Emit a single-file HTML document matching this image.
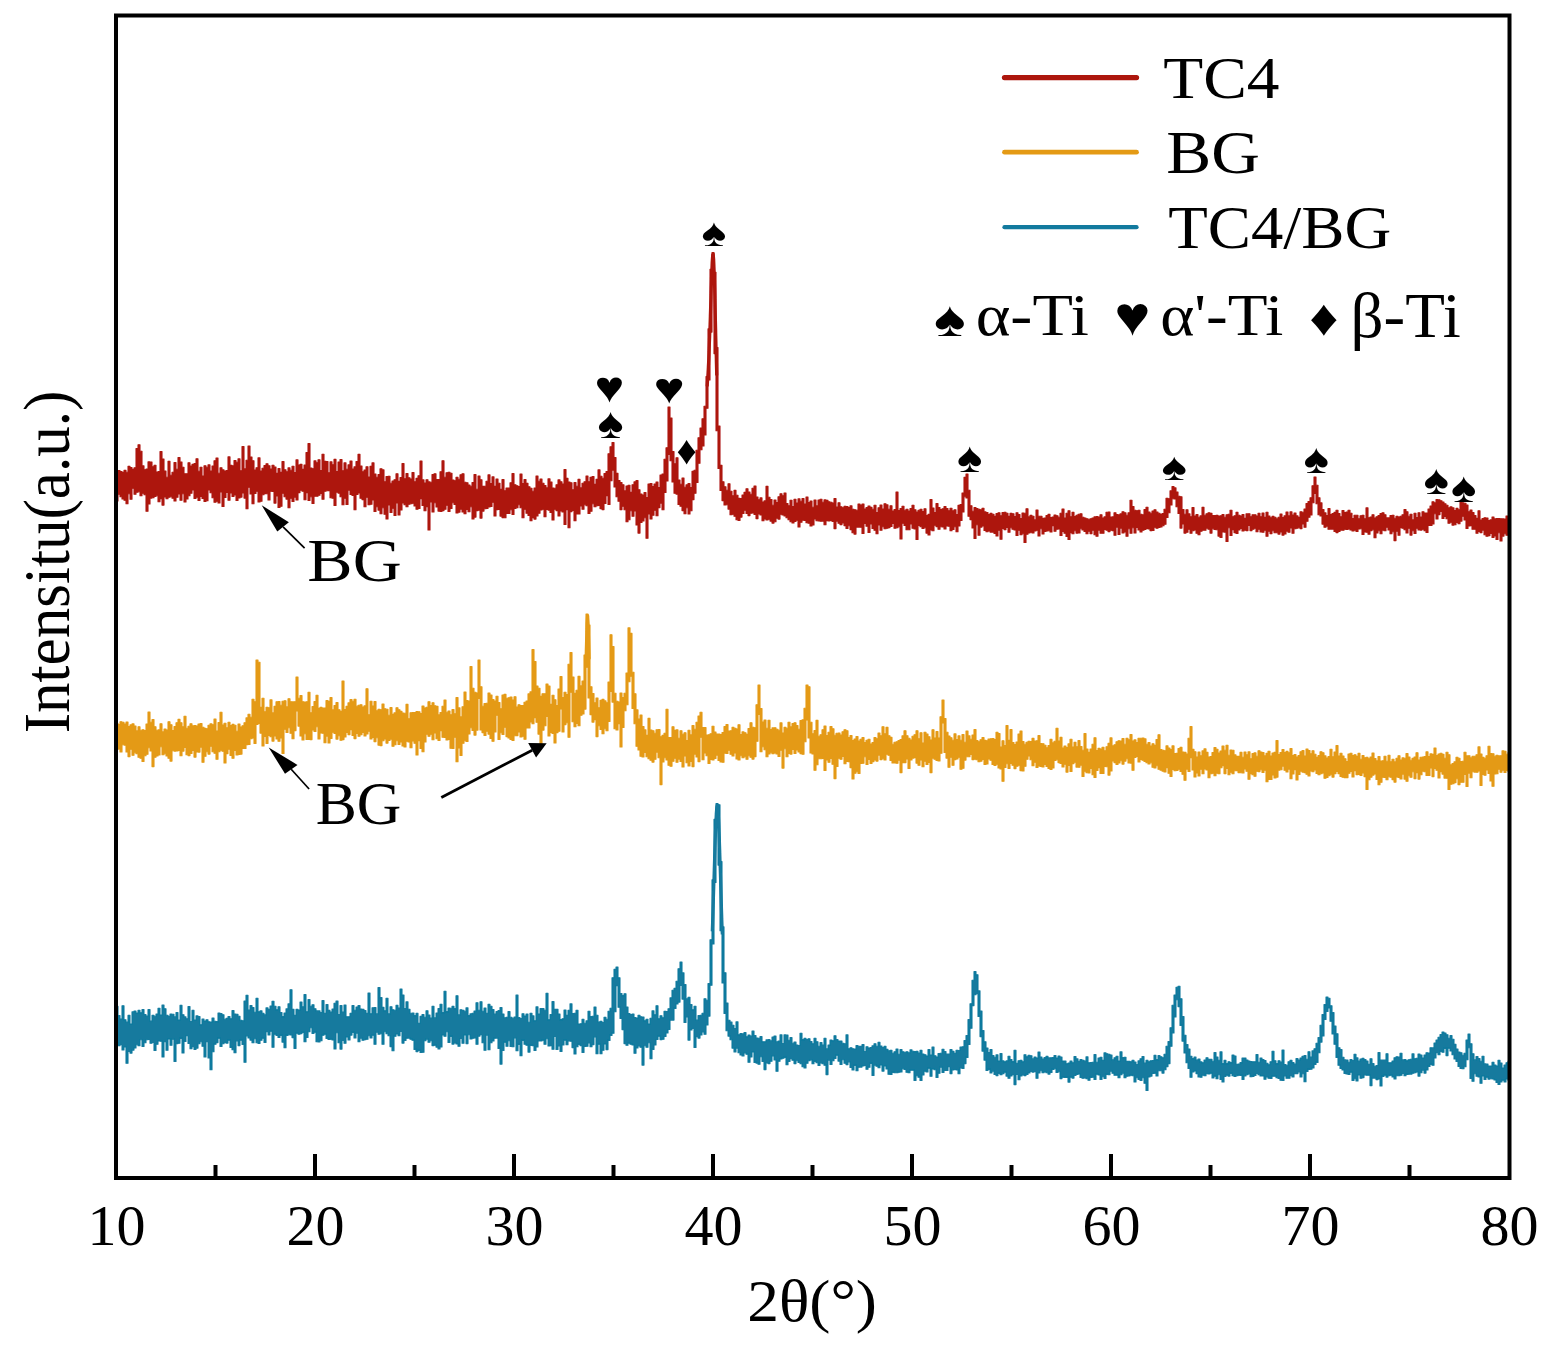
<!DOCTYPE html>
<html><head><meta charset="utf-8"><title>XRD patterns</title>
<style>html,body{margin:0;padding:0;background:#fff;width:1550px;height:1345px;overflow:hidden}svg{display:block}</style>
</head><body>
<svg width="1550" height="1345" viewBox="0 0 1550 1345">
<rect width="1550" height="1345" fill="#fff"/>
<defs><filter id="sb" x="-1%" y="-5%" width="102%" height="110%"><feGaussianBlur stdDeviation="0.55"/></filter></defs>
<g filter="url(#sb)">
<path fill="#AD160D" stroke="#AD160D" stroke-width="1.10" stroke-linejoin="round" d="M116.0,471.6h2V470.6h2V471.5h2V472.4h2V470.4h2V472.2h2V466.4h2V467.5h2V469.4h2V467.7h2V448.5h2V444.7h2V451.2h2V465.9h2V469.8h2V469.1h2V461.9h2V462.1h2V466.8h2V465.3h2V472.1h2V471.6h2V451.6h2V459.1h2V471.1h2V477.2h2V461.4h2V475.2h2V472.2h2V462.6h2V469.3h2V457.6h2V462.1h2V467.2h2V473.7h2V473.8h2V462.7h2V466.0h2V464.4h2V463.5h2V458.8h2V471.3h2V467.2h2V476.1h2V465.8h2V467.2h2V464.9h2V471.0h2V466.0h2V460.8h2V458.1h2V473.3h2V467.7h2V469.9h2V471.0h2V470.5h2V456.9h2V465.4h2V465.9h2V460.5h2V462.3h2V458.9h2V470.7h2V446.5h2V468.9h2V460.2h2V446.1h2V457.1h2V460.8h2V470.0h2V467.8h2V457.9h2V471.1h2V468.2h2V465.5h2V463.7h2V465.7h2V469.0h2V465.2h2V467.1h2V473.4h2V468.5h2V472.4h2V461.5h2V469.8h2V471.8h2V467.9h2V470.3h2V466.2h2V472.5h2V459.9h2V465.0h2V464.4h2V469.4h2V465.0h2V452.6h2V443.6h2V468.1h2V468.8h2V460.9h2V462.8h2V459.8h2V470.5h2V454.2h2V461.4h2V461.5h2V472.8h2V461.9h2V464.7h2V459.4h2V471.6h2V462.1h2V459.5h2V470.8h2V462.9h2V469.2h2V464.9h2V461.0h2V469.0h2V466.9h2V461.6h2V454.4h2V466.0h2V471.8h2V470.1h2V466.8h2V477.1h2V466.4h2V462.9h2V474.0h2V477.3h2V474.5h2V468.8h2V469.9h2V481.8h2V476.6h2V476.2h2V483.3h2V481.0h2V479.8h2V473.8h2V481.4h2V477.6h2V463.6h2V478.7h2V473.6h2V477.8h2V479.1h2V472.6h2V481.8h2V478.4h2V475.7h2V461.1h2V479.9h2V483.0h2V479.7h2V481.9h2V482.3h2V474.6h2V473.7h2V479.6h2V479.5h2V471.8h2V460.8h2V477.2h2V472.8h2V472.3h2V473.3h2V480.0h2V480.7h2V477.3h2V479.3h2V474.7h2V473.8h2V482.2h2V482.8h2V485.1h2V486.3h2V482.5h2V474.6h2V489.3h2V476.0h2V479.7h2V486.4h2V486.3h2V481.3h2V474.9h2V483.5h2V476.9h2V486.4h2V479.1h2V483.2h2V489.4h2V479.5h2V490.7h2V488.1h2V488.1h2V482.8h2V473.5h2V484.8h2V485.8h2V486.5h2V474.0h2V483.5h2V479.6h2V483.4h2V486.7h2V488.3h2V491.3h2V488.0h2V476.0h2V481.3h2V479.0h2V483.3h2V485.5h2V487.9h2V478.9h2V482.1h2V488.0h2V488.2h2V484.8h2V479.9h2V481.7h2V484.0h2V469.6h2V478.4h2V482.0h2V482.8h2V489.8h2V482.5h2V486.2h2V479.4h2V487.9h2V483.3h2V481.8h2V476.0h2V481.8h2V477.4h2V476.6h2V484.4h2V479.4h2V469.9h2V476.2h2V478.2h2V473.5h2V471.5h2V453.7h2V446.8h2V442.6h2V457.6h2V473.4h2V480.6h2V482.5h2V484.8h2V490.9h2V486.0h2V485.3h2V492.4h2V484.7h2V481.9h2V480.6h2V489.8h2V494.1h2V495.1h2V492.6h2V497.5h2V484.1h2V483.6h2V486.5h2V484.1h2V482.0h2V487.6h2V475.0h2V474.0h2V459.3h2V447.7h2V407.0h2V418.0h2V451.5h2V463.8h2V457.8h2V480.1h2V484.3h2V478.1h2V487.2h2V484.9h2V483.6h2V487.6h2V471.4h2V470.2h2V450.2h2V437.7h2V428.0h2V418.7h2V406.3h2V376.5h2V328.9h2V269.3h2V252.5h2V272.2h2V347.6h2V426.1h2V465.4h2V481.8h2V486.7h2V490.2h2V483.7h2V491.2h2V495.8h2V490.4h2V495.2h2V498.4h2V498.6h2V495.0h2V492.4h2V488.8h2V492.1h2V494.3h2V488.3h2V486.0h2V497.0h2V499.8h2V497.9h2V502.0h2V500.9h2V486.4h2V497.2h2V499.5h2V505.3h2V500.1h2V502.5h2V496.7h2V493.8h2V495.8h2V493.1h2V503.5h2V505.8h2V500.2h2V506.6h2V499.3h2V503.0h2V498.9h2V501.3h2V498.5h2V504.1h2V497.0h2V502.5h2V501.1h2V507.2h2V500.0h2V505.9h2V500.0h2V499.2h2V502.3h2V499.9h2V500.4h2V501.7h2V502.2h2V503.0h2V498.6h2V507.1h2V502.7h2V506.7h2V507.8h2V506.2h2V506.5h2V507.5h2V505.9h2V509.3h2V509.8h2V510.2h2V504.1h2V505.1h2V504.0h2V509.0h2V507.5h2V506.1h2V507.4h2V509.2h2V505.2h2V512.6h2V507.8h2V505.0h2V509.0h2V503.7h2V504.9h2V509.3h2V505.7h2V511.1h2V509.5h2V492.0h2V510.6h2V508.6h2V506.2h2V510.2h2V509.3h2V511.0h2V508.5h2V505.2h2V509.8h2V512.0h2V510.2h2V509.3h2V511.6h2V508.8h2V515.5h2V514.4h2V499.6h2V508.0h2V512.5h2V503.5h2V507.6h2V509.6h2V508.7h2V506.6h2V508.5h2V510.8h2V508.2h2V510.9h2V509.8h2V514.5h2V505.4h2V504.6h2V493.1h2V477.4h2V474.0h2V490.2h2V505.8h2V511.3h2V507.5h2V508.5h2V509.2h2V509.9h2V508.2h2V511.9h2V512.5h2V514.6h2V513.4h2V514.3h2V516.4h2V513.6h2V512.8h2V515.8h2V512.6h2V512.3h2V513.3h2V516.4h2V513.4h2V513.7h2V516.6h2V512.8h2V514.5h2V518.5h2V513.1h2V513.2h2V508.7h2V516.9h2V515.4h2V516.3h2V519.9h2V510.0h2V516.3h2V516.2h2V518.4h2V518.1h2V515.6h2V514.4h2V517.5h2V517.0h2V515.1h2V515.8h2V517.3h2V513.3h2V509.1h2V518.1h2V513.2h2V510.7h2V516.7h2V512.4h2V516.6h2V515.3h2V514.3h2V513.8h2V517.3h2V518.0h2V518.7h2V519.3h2V518.7h2V518.1h2V516.9h2V516.6h2V517.0h2V514.7h2V518.1h2V516.9h2V512.2h2V512.1h2V517.1h2V516.9h2V512.8h2V514.5h2V514.9h2V513.9h2V511.8h2V512.7h2V515.2h2V512.7h2V500.3h2V506.5h2V510.3h2V510.8h2V510.3h2V514.2h2V514.9h2V509.5h2V507.2h2V512.0h2V513.3h2V511.0h2V509.8h2V512.0h2V513.3h2V514.4h2V513.5h2V509.3h2V498.3h2V498.8h2V490.9h2V486.5h2V487.9h2V492.0h2V496.2h2V496.7h2V509.6h2V514.2h2V509.8h2V513.9h2V516.7h2V507.5h2V516.1h2V514.5h2V517.3h2V515.9h2V507.4h2V515.2h2V513.7h2V512.8h2V513.4h2V515.6h2V515.6h2V515.4h2V516.1h2V515.8h2V514.6h2V517.3h2V514.8h2V514.3h2V510.3h2V516.8h2V515.8h2V512.4h2V515.3h2V516.1h2V514.6h2V518.4h2V513.9h2V513.8h2V516.8h2V514.7h2V514.8h2V516.1h2V513.2h2V516.8h2V513.0h2V517.4h2V512.3h2V516.1h2V517.7h2V516.4h2V517.3h2V518.9h2V517.2h2V514.1h2V517.6h2V515.9h2V512.1h2V515.9h2V511.9h2V515.0h2V513.0h2V515.9h2V517.4h2V511.8h2V512.3h2V509.0h2V503.6h2V501.6h2V497.7h2V485.7h2V477.0h2V485.3h2V497.8h2V502.9h2V509.5h2V512.9h2V515.6h2V508.6h2V514.5h2V513.5h2V512.4h2V510.2h2V513.6h2V516.7h2V510.5h2V512.6h2V512.0h2V510.3h2V513.3h2V518.6h2V515.3h2V515.3h2V518.8h2V515.7h2V515.2h2V518.8h2V507.9h2V517.7h2V517.0h2V514.8h2V518.0h2V516.8h2V515.5h2V513.6h2V512.7h2V514.8h2V517.9h2V517.9h2V515.5h2V515.2h2V518.2h2V516.2h2V517.1h2V516.3h2V514.7h2V509.5h2V511.7h2V516.2h2V514.2h2V519.9h2V513.3h2V517.6h2V512.8h2V517.0h2V511.7h2V513.1h2V513.0h2V509.0h2V506.0h2V501.7h2V502.9h2V499.6h2V499.7h2V500.7h2V502.0h2V503.7h2V505.2h2V507.9h2V506.9h2V507.9h2V510.6h2V508.4h2V509.7h2V502.0h2V502.8h2V503.3h2V505.1h2V511.8h2V510.1h2V512.6h2V515.6h2V518.4h2V510.7h2V520.0h2V518.5h2V517.7h2V518.1h2V520.5h2V519.9h2V517.1h2V518.9h2V518.6h2V518.5h2V518.8h2V518.9h2V519.0h2V516.1h2V517.3h2V532.9h-2V535.2h-2V533.8h-2V536.1h-2V540.9h-2V532.7h-2V539.5h-2V535.9h-2V537.4h-2V533.5h-2V535.6h-2V536.3h-2V534.7h-2V530.1h-2V532.6h-2V531.4h-2V533.2h-2V529.3h-2V529.3h-2V525.6h-2V525.9h-2V528.5h-2V520.0h-2V516.3h-2V521.1h-2V523.7h-2V522.5h-2V524.7h-2V525.1h-2V522.3h-2V523.3h-2V518.8h-2V516.4h-2V518.4h-2V511.5h-2V514.6h-2V518.9h-2V513.8h-2V523.9h-2V525.5h-2V525.4h-2V532.5h-2V530.8h-2V529.2h-2V530.1h-2V530.0h-2V528.2h-2V533.4h-2V530.8h-2V535.1h-2V528.3h-2V533.0h-2V529.7h-2V528.2h-2V527.6h-2V535.2h-2V531.2h-2V540.6h-2V531.8h-2V533.8h-2V530.0h-2V527.2h-2V530.8h-2V530.1h-2V533.8h-2V530.7h-2V532.9h-2V537.8h-2V529.7h-2V530.6h-2V534.2h-2V532.2h-2V531.9h-2V534.4h-2V528.8h-2V529.0h-2V531.5h-2V530.1h-2V531.0h-2V529.9h-2V528.9h-2V529.4h-2V529.2h-2V530.3h-2V530.1h-2V531.5h-2V532.6h-2V531.5h-2V529.1h-2V529.1h-2V529.2h-2V526.1h-2V527.2h-2V524.1h-2V516.0h-2V514.7h-2V503.8h-2V493.5h-2V502.7h-2V514.9h-2V517.2h-2V521.3h-2V527.3h-2V523.9h-2V528.6h-2V527.7h-2V528.3h-2V528.7h-2V533.2h-2V528.0h-2V532.2h-2V531.1h-2V533.9h-2V535.1h-2V532.0h-2V534.1h-2V532.8h-2V532.7h-2V530.8h-2V533.6h-2V531.2h-2V536.2h-2V530.2h-2V532.3h-2V532.0h-2V529.3h-2V531.8h-2V528.2h-2V529.3h-2V530.6h-2V525.5h-2V530.6h-2V530.1h-2V531.0h-2V528.4h-2V530.0h-2V533.4h-2V532.6h-2V529.6h-2V535.4h-2V527.7h-2V541.4h-2V532.1h-2V532.0h-2V537.5h-2V536.1h-2V529.8h-2V529.5h-2V528.7h-2V533.1h-2V529.2h-2V528.1h-2V530.2h-2V530.3h-2V531.2h-2V534.7h-2V533.3h-2V529.9h-2V530.7h-2V533.3h-2V529.3h-2V532.3h-2V533.1h-2V524.0h-2V528.1h-2V513.4h-2V506.7h-2V499.0h-2V498.8h-2V505.0h-2V512.7h-2V517.4h-2V524.3h-2V525.8h-2V527.0h-2V527.4h-2V528.2h-2V527.2h-2V530.4h-2V530.6h-2V528.9h-2V528.4h-2V529.4h-2V530.2h-2V532.0h-2V529.9h-2V527.5h-2V533.0h-2V527.8h-2V533.2h-2V528.7h-2V536.3h-2V532.0h-2V532.9h-2V528.1h-2V534.5h-2V527.1h-2V535.3h-2V530.6h-2V530.3h-2V531.6h-2V530.2h-2V529.5h-2V533.3h-2V533.3h-2V530.1h-2V536.2h-2V534.7h-2V530.3h-2V533.6h-2V531.2h-2V533.8h-2V531.5h-2V529.9h-2V528.7h-2V532.9h-2V533.1h-2V530.8h-2V533.7h-2V532.6h-2V539.5h-2V536.4h-2V533.2h-2V531.5h-2V535.4h-2V529.0h-2V529.2h-2V531.2h-2V525.6h-2V532.0h-2V530.8h-2V530.9h-2V531.5h-2V534.0h-2V528.8h-2V536.0h-2V530.3h-2V530.9h-2V532.9h-2V532.3h-2V532.9h-2V534.2h-2V542.4h-2V533.8h-2V534.8h-2V530.3h-2V535.5h-2V530.0h-2V529.2h-2V527.7h-2V532.2h-2V527.5h-2V529.6h-2V528.4h-2V539.2h-2V530.3h-2V535.9h-2V533.4h-2V532.1h-2V532.1h-2V531.0h-2V531.8h-2V530.5h-2V526.0h-2V527.1h-2V535.3h-2V524.7h-2V538.5h-2V527.9h-2V519.6h-2V516.3h-2V497.9h-2V496.7h-2V511.9h-2V520.5h-2V526.0h-2V531.7h-2V526.8h-2V529.4h-2V530.7h-2V526.3h-2V526.0h-2V529.0h-2V527.0h-2V526.8h-2V529.3h-2V526.6h-2V525.2h-2V530.7h-2V530.0h-2V534.9h-2V533.1h-2V527.8h-2V528.4h-2V526.7h-2V525.4h-2V539.5h-2V529.0h-2V528.3h-2V524.0h-2V529.8h-2V529.8h-2V525.4h-2V523.3h-2V538.9h-2V526.7h-2V527.7h-2V528.3h-2V523.5h-2V526.5h-2V527.6h-2V528.2h-2V528.7h-2V526.8h-2V530.3h-2V524.9h-2V533.8h-2V530.2h-2V528.4h-2V524.0h-2V532.5h-2V526.3h-2V523.4h-2V533.5h-2V527.2h-2V527.1h-2V527.1h-2V534.1h-2V532.7h-2V529.6h-2V525.7h-2V528.4h-2V525.6h-2V522.9h-2V524.6h-2V523.2h-2V521.1h-2V528.6h-2V521.4h-2V520.4h-2V521.0h-2V520.6h-2V524.8h-2V521.1h-2V521.3h-2V520.9h-2V520.8h-2V519.0h-2V524.9h-2V526.0h-2V523.3h-2V522.7h-2V520.5h-2V520.1h-2V522.3h-2V527.0h-2V520.3h-2V521.4h-2V523.0h-2V521.8h-2V519.8h-2V517.8h-2V516.0h-2V515.0h-2V514.2h-2V519.1h-2V518.1h-2V521.7h-2V523.1h-2V521.1h-2V519.2h-2V520.0h-2V518.9h-2V520.8h-2V514.9h-2V514.0h-2V518.6h-2V514.4h-2V512.9h-2V513.2h-2V515.6h-2V513.4h-2V510.3h-2V513.5h-2V517.1h-2V520.5h-2V519.7h-2V516.2h-2V514.2h-2V514.8h-2V509.1h-2V504.8h-2V504.9h-2V500.6h-2V490.5h-2V468.4h-2V430.8h-2V353.6h-2V274.4h-2V332.1h-2V379.9h-2V408.3h-2V435.0h-2V445.9h-2V449.8h-2V463.3h-2V482.5h-2V493.2h-2V499.6h-2V510.8h-2V513.9h-2V507.7h-2V513.8h-2V510.6h-2V506.2h-2V504.4h-2V494.1h-2V493.2h-2V481.9h-2V460.8h-2V454.5h-2V480.9h-2V492.4h-2V509.8h-2V503.1h-2V507.6h-2V515.8h-2V510.2h-2V515.3h-2V519.0h-2V513.9h-2V538.3h-2V517.8h-2V520.9h-2V522.5h-2V533.1h-2V524.9h-2V510.9h-2V516.3h-2V510.8h-2V519.7h-2V521.8h-2V509.8h-2V506.3h-2V509.6h-2V501.3h-2V496.7h-2V487.0h-2V470.1h-2V480.7h-2V504.4h-2V495.6h-2V503.4h-2V509.6h-2V508.6h-2V505.4h-2V505.7h-2V506.8h-2V503.7h-2V511.3h-2V513.4h-2V505.7h-2V504.7h-2V509.3h-2V506.0h-2V514.0h-2V514.0h-2V520.8h-2V510.5h-2V511.6h-2V527.7h-2V509.6h-2V524.5h-2V512.0h-2V511.0h-2V516.0h-2V510.6h-2V509.3h-2V520.0h-2V512.5h-2V510.1h-2V509.5h-2V516.7h-2V509.3h-2V510.0h-2V513.3h-2V516.0h-2V519.1h-2V517.6h-2V520.8h-2V515.4h-2V513.3h-2V509.3h-2V517.8h-2V507.8h-2V504.8h-2V507.7h-2V508.4h-2V514.5h-2V509.8h-2V513.4h-2V513.4h-2V517.8h-2V517.6h-2V516.1h-2V509.4h-2V509.6h-2V515.9h-2V502.3h-2V506.4h-2V506.9h-2V508.4h-2V508.8h-2V511.1h-2V518.1h-2V510.1h-2V510.6h-2V517.1h-2V519.0h-2V506.7h-2V511.8h-2V509.5h-2V513.7h-2V512.0h-2V509.1h-2V512.1h-2V513.0h-2V504.5h-2V502.8h-2V508.4h-2V511.4h-2V505.3h-2V509.3h-2V510.6h-2V511.5h-2V511.1h-2V507.0h-2V502.8h-2V512.0h-2V501.9h-2V529.9h-2V506.6h-2V510.8h-2V505.5h-2V498.6h-2V508.5h-2V509.2h-2V506.0h-2V503.3h-2V503.8h-2V504.3h-2V506.7h-2V504.8h-2V502.9h-2V510.0h-2V515.0h-2V502.9h-2V515.5h-2V508.2h-2V512.4h-2V504.9h-2V518.9h-2V514.2h-2V507.7h-2V513.7h-2V510.1h-2V506.8h-2V511.4h-2V500.0h-2V504.3h-2V504.8h-2V497.2h-2V506.8h-2V499.6h-2V498.3h-2V493.0h-2V494.5h-2V509.8h-2V495.5h-2V494.4h-2V490.1h-2V504.5h-2V498.2h-2V504.7h-2V496.8h-2V493.1h-2V492.1h-2V505.4h-2V498.2h-2V497.8h-2V490.6h-2V490.8h-2V491.2h-2V499.2h-2V493.5h-2V495.3h-2V496.3h-2V496.3h-2V503.5h-2V496.8h-2V500.5h-2V492.6h-2V499.8h-2V491.3h-2V490.2h-2V492.6h-2V499.9h-2V497.1h-2V501.4h-2V498.2h-2V507.7h-2V499.1h-2V496.7h-2V493.2h-2V506.3h-2V507.4h-2V496.0h-2V503.1h-2V491.4h-2V491.2h-2V500.0h-2V493.8h-2V493.6h-2V494.7h-2V501.2h-2V502.0h-2V491.2h-2V493.4h-2V503.8h-2V493.9h-2V487.2h-2V508.8h-2V498.1h-2V493.0h-2V497.1h-2V498.0h-2V500.5h-2V495.0h-2V496.4h-2V492.9h-2V500.3h-2V492.5h-2V497.4h-2V506.5h-2V492.0h-2V502.9h-2V501.3h-2V502.2h-2V497.8h-2V492.8h-2V490.0h-2V500.8h-2V501.5h-2V498.5h-2V496.4h-2V500.5h-2V497.1h-2V498.4h-2V490.0h-2V493.3h-2V495.8h-2V498.9h-2V501.9h-2V493.7h-2V500.2h-2V493.9h-2V497.2h-2V500.9h-2V498.3h-2V496.7h-2V497.3h-2V498.7h-2V497.0h-2V505.1h-2V498.6h-2V501.7h-2V495.7h-2V496.5h-2V497.7h-2V498.1h-2V503.9h-2V511.2h-2V494.7h-2V493.3h-2V495.8h-2V491.8h-2V492.2h-2V494.2h-2V488.2h-2V499.2h-2V493.7h-2V503.7h-2V500.3h-2V499.0h-2V496.7h-2V494.2h-2V501.0h-2Z"/>
<polyline fill="none" stroke="#AD160D" stroke-width="3.2" stroke-linejoin="round" points="707.2,386.4 707.7,378.6 708.2,369.9 708.7,360.0 709.2,348.4 709.7,335.2 710.2,320.5 710.7,304.6 711.2,288.6 711.7,273.8 712.2,261.9 712.7,254.8 713.2,254.0 713.7,260.2 714.2,272.7 714.7,290.2 715.2,310.8 715.7,332.7 716.2,354.6 716.7,375.4"/>
<path fill="#E49A15" stroke="#E49A15" stroke-width="1.10" stroke-linejoin="round" d="M116.0,723.2h2V724.6h2V721.8h2V722.3h2V724.0h2V722.0h2V726.6h2V724.9h2V723.9h2V726.1h2V730.9h2V726.8h2V730.2h2V729.7h2V730.6h2V724.1h2V712.1h2V722.3h2V719.5h2V726.7h2V730.2h2V729.9h2V723.7h2V731.9h2V729.0h2V730.1h2V721.8h2V724.8h2V730.6h2V726.5h2V722.7h2V719.4h2V722.8h2V726.7h2V716.3h2V728.3h2V726.2h2V723.8h2V725.9h2V725.6h2V726.1h2V724.1h2V723.6h2V727.3h2V728.4h2V728.8h2V725.2h2V723.9h2V724.7h2V719.0h2V731.0h2V722.5h2V712.2h2V725.0h2V723.2h2V727.7h2V722.3h2V725.6h2V724.4h2V725.3h2V731.2h2V724.0h2V727.1h2V725.7h2V722.8h2V717.9h2V714.2h2V717.2h2V699.3h2V701.7h2V660.0h2V662.2h2V707.4h2V698.3h2V711.7h2V707.2h2V707.8h2V699.9h2V712.9h2V706.4h2V701.7h2V701.5h2V705.2h2V701.3h2V700.8h2V706.9h2V698.7h2V701.8h2V701.9h2V701.7h2V677.0h2V698.3h2V695.5h2V701.7h2V702.1h2V701.7h2V692.3h2V712.8h2V706.5h2V701.6h2V695.2h2V708.4h2V707.4h2V708.0h2V708.1h2V700.6h2V701.4h2V697.6h2V709.9h2V705.5h2V702.5h2V709.8h2V711.4h2V681.0h2V709.5h2V706.4h2V702.9h2V699.6h2V701.2h2V699.2h2V706.3h2V705.2h2V704.8h2V707.0h2V705.9h2V688.8h2V714.7h2V701.2h2V706.1h2V701.5h2V710.7h2V709.2h2V709.7h2V704.0h2V708.7h2V709.3h2V715.3h2V707.6h2V714.4h2V712.9h2V707.7h2V709.7h2V711.4h2V713.0h2V713.3h2V704.4h2V718.8h2V712.8h2V712.5h2V712.6h2V711.5h2V711.7h2V713.5h2V706.0h2V708.1h2V707.3h2V701.8h2V705.5h2V702.8h2V705.8h2V706.4h2V714.9h2V712.6h2V706.2h2V700.0h2V712.2h2V711.0h2V714.8h2V709.6h2V713.8h2V697.5h2V707.9h2V716.9h2V706.8h2V692.0h2V700.6h2V701.1h2V666.6h2V688.3h2V692.2h2V693.0h2V660.0h2V686.7h2V706.2h2V703.6h2V703.2h2V693.0h2V695.0h2V699.5h2V701.1h2V696.2h2V702.6h2V708.7h2V695.1h2V694.4h2V698.2h2V697.7h2V697.1h2V700.1h2V696.8h2V707.1h2V704.7h2V705.5h2V705.5h2V702.2h2V701.1h2V693.9h2V691.9h2V649.5h2V661.6h2V686.1h2V688.2h2V696.4h2V693.7h2V693.7h2V684.1h2V686.1h2V704.4h2V695.2h2V699.8h2V705.6h2V689.1h2V676.5h2V697.6h2V692.3h2V694.5h2V664.3h2V652.6h2V677.0h2V693.4h2V690.3h2V676.4h2V685.9h2V681.0h2V655.1h2V614.0h2V625.1h2V686.7h2V693.5h2V702.8h2V698.1h2V707.8h2V700.4h2V699.4h2V700.9h2V702.7h2V682.0h2V634.8h2V646.6h2V693.3h2V701.3h2V702.1h2V693.0h2V697.6h2V693.2h2V673.1h2V627.9h2V633.4h2V672.3h2V693.7h2V709.9h2V719.0h2V715.1h2V726.5h2V729.9h2V735.4h2V718.4h2V730.1h2V730.8h2V733.2h2V729.7h2V729.5h2V736.7h2V735.4h2V733.3h2V709.2h2V737.5h2V737.6h2V726.7h2V730.4h2V729.9h2V738.2h2V730.7h2V734.2h2V732.8h2V740.5h2V730.3h2V734.9h2V725.6h2V729.3h2V722.2h2V716.0h2V712.3h2V727.5h2V727.6h2V735.0h2V734.7h2V733.7h2V726.3h2V732.0h2V734.0h2V734.1h2V734.5h2V732.5h2V726.6h2V724.5h2V731.0h2V730.7h2V727.4h2V728.2h2V729.0h2V724.7h2V734.5h2V731.9h2V732.7h2V734.4h2V728.5h2V722.8h2V727.2h2V727.8h2V704.8h2V685.0h2V708.5h2V722.1h2V720.0h2V728.2h2V720.2h2V729.5h2V727.9h2V727.8h2V729.2h2V730.3h2V722.9h2V733.1h2V727.4h2V728.3h2V722.3h2V726.9h2V723.6h2V722.8h2V725.6h2V729.3h2V720.6h2V719.9h2V708.3h2V685.0h2V686.8h2V722.3h2V733.7h2V730.6h2V720.4h2V736.2h2V734.7h2V729.8h2V726.0h2V735.6h2V732.3h2V726.5h2V728.8h2V735.2h2V733.3h2V733.0h2V735.0h2V731.8h2V729.7h2V730.7h2V737.5h2V735.5h2V740.6h2V739.0h2V736.6h2V741.1h2V739.3h2V737.5h2V742.5h2V740.2h2V739.2h2V744.1h2V742.6h2V737.5h2V738.7h2V733.0h2V735.8h2V726.8h2V733.8h2V727.4h2V735.8h2V737.4h2V744.2h2V742.2h2V741.8h2V740.6h2V739.5h2V735.9h2V730.8h2V735.7h2V738.3h2V740.1h2V736.2h2V734.7h2V730.8h2V738.8h2V732.8h2V743.0h2V732.2h2V734.0h2V736.7h2V740.0h2V729.7h2V738.0h2V731.6h2V738.1h2V716.8h2V700.0h2V718.6h2V732.2h2V736.1h2V737.8h2V740.2h2V733.9h2V739.6h2V735.9h2V740.3h2V734.6h2V742.2h2V731.0h2V735.9h2V739.3h2V735.0h2V729.5h2V740.5h2V741.7h2V739.8h2V737.5h2V740.4h2V740.7h2V739.0h2V738.8h2V738.6h2V739.5h2V732.2h2V733.6h2V747.1h2V740.7h2V745.5h2V725.5h2V740.4h2V729.6h2V742.6h2V744.6h2V742.1h2V734.1h2V731.1h2V741.6h2V744.3h2V742.2h2V741.2h2V741.5h2V738.4h2V741.1h2V740.8h2V735.5h2V743.5h2V743.7h2V745.2h2V747.8h2V745.5h2V739.4h2V742.9h2V741.3h2V728.3h2V741.1h2V737.4h2V748.1h2V746.0h2V747.6h2V743.9h2V739.2h2V747.1h2V742.4h2V746.7h2V740.5h2V746.6h2V750.2h2V733.6h2V749.1h2V752.4h2V749.0h2V744.2h2V737.7h2V750.6h2V748.4h2V749.1h2V747.2h2V750.8h2V746.8h2V743.4h2V737.9h2V745.9h2V744.8h2V741.7h2V740.7h2V741.1h2V738.6h2V744.3h2V738.3h2V739.8h2V734.6h2V741.0h2V739.9h2V742.6h2V738.2h2V738.2h2V738.0h2V738.9h2V744.3h2V742.5h2V746.1h2V743.8h2V745.4h2V739.6h2V734.8h2V749.6h2V750.2h2V750.8h2V745.9h2V748.1h2V749.6h2V745.9h2V753.5h2V753.4h2V748.6h2V747.4h2V752.0h2V752.4h2V754.0h2V738.3h2V726.5h2V749.4h2V751.7h2V757.0h2V752.0h2V755.7h2V750.9h2V748.9h2V752.4h2V757.0h2V756.5h2V752.6h2V747.5h2V749.2h2V753.1h2V751.0h2V746.0h2V750.3h2V745.2h2V755.3h2V750.0h2V750.3h2V754.9h2V756.4h2V756.4h2V752.4h2V757.2h2V752.1h2V754.8h2V751.9h2V758.8h2V753.6h2V752.9h2V756.2h2V750.8h2V752.1h2V752.5h2V755.9h2V753.4h2V751.2h2V756.0h2V753.0h2V752.4h2V740.5h2V754.5h2V752.6h2V749.5h2V752.5h2V751.4h2V752.8h2V748.6h2V755.6h2V754.5h2V757.0h2V755.6h2V751.8h2V750.5h2V756.0h2V749.1h2V750.6h2V753.8h2V750.8h2V754.3h2V757.4h2V755.5h2V751.7h2V752.7h2V755.9h2V758.0h2V756.5h2V749.2h2V756.7h2V752.0h2V745.5h2V756.1h2V753.2h2V756.1h2V758.8h2V761.6h2V754.0h2V753.3h2V755.6h2V754.8h2V756.4h2V753.4h2V759.3h2V755.5h2V757.8h2V757.3h2V758.8h2V757.1h2V753.0h2V758.6h2V760.9h2V756.6h2V761.0h2V760.7h2V756.2h2V761.3h2V755.3h2V761.7h2V759.2h2V761.9h2V758.3h2V755.8h2V760.1h2V757.9h2V758.2h2V753.6h2V757.1h2V760.2h2V758.4h2V757.1h2V752.8h2V760.1h2V757.3h2V757.1h2V756.6h2V751.9h2V756.6h2V753.9h2V754.4h2V748.1h2V755.6h2V754.1h2V753.2h2V754.4h2V758.2h2V752.2h2V754.7h2V764.9h2V763.6h2V761.9h2V757.3h2V758.2h2V761.5h2V761.2h2V752.2h2V755.9h2V755.8h2V757.9h2V756.3h2V756.3h2V754.7h2V746.9h2V754.0h2V757.4h2V758.3h2V755.8h2V746.2h2V753.5h2V753.7h2V756.2h2V755.2h2V755.9h2V755.7h2V750.9h2V751.3h2V754.3h2V752.6h2V771.4h-2V770.4h-2V772.5h-2V770.3h-2V772.2h-2V769.2h-2V773.7h-2V774.0h-2V786.2h-2V780.9h-2V773.5h-2V769.9h-2V775.3h-2V774.5h-2V785.5h-2V770.9h-2V772.2h-2V772.1h-2V771.7h-2V777.7h-2V773.1h-2V786.5h-2V774.5h-2V782.3h-2V782.3h-2V784.6h-2V778.7h-2V782.6h-2V783.7h-2V784.2h-2V789.4h-2V778.2h-2V778.1h-2V774.1h-2V771.6h-2V778.0h-2V770.2h-2V768.4h-2V776.6h-2V767.9h-2V775.4h-2V775.4h-2V771.7h-2V771.1h-2V774.7h-2V779.1h-2V772.6h-2V778.6h-2V771.7h-2V777.2h-2V775.8h-2V781.3h-2V779.1h-2V774.1h-2V778.9h-2V777.4h-2V776.9h-2V782.1h-2V779.6h-2V777.2h-2V776.8h-2V779.8h-2V777.5h-2V777.2h-2V782.2h-2V784.8h-2V779.5h-2V773.9h-2V775.1h-2V777.1h-2V779.7h-2V789.5h-2V776.6h-2V773.0h-2V775.4h-2V774.5h-2V774.6h-2V770.6h-2V777.0h-2V771.5h-2V773.3h-2V777.6h-2V777.6h-2V777.2h-2V776.4h-2V773.6h-2V771.5h-2V773.6h-2V777.1h-2V774.8h-2V775.7h-2V777.5h-2V778.2h-2V772.9h-2V773.7h-2V774.8h-2V773.4h-2V769.9h-2V771.8h-2V770.9h-2V776.0h-2V774.3h-2V772.6h-2V772.1h-2V771.1h-2V774.5h-2V780.0h-2V769.6h-2V773.9h-2V778.7h-2V769.1h-2V771.9h-2V770.3h-2V766.1h-2V769.7h-2V770.1h-2V777.1h-2V777.9h-2V775.0h-2V779.4h-2V779.5h-2V781.7h-2V770.3h-2V772.4h-2V769.8h-2V771.6h-2V771.2h-2V776.2h-2V774.8h-2V773.6h-2V779.3h-2V771.3h-2V769.0h-2V773.0h-2V772.7h-2V772.6h-2V770.6h-2V770.7h-2V773.8h-2V772.2h-2V774.8h-2V768.5h-2V773.6h-2V765.6h-2V767.8h-2V773.8h-2V773.1h-2V775.8h-2V773.2h-2V773.8h-2V777.8h-2V770.0h-2V768.9h-2V773.7h-2V769.2h-2V775.9h-2V773.0h-2V776.9h-2V770.0h-2V757.6h-2V771.5h-2V769.1h-2V780.2h-2V774.2h-2V771.4h-2V769.3h-2V770.5h-2V770.7h-2V769.4h-2V776.5h-2V773.2h-2V767.6h-2V772.0h-2V771.1h-2V770.1h-2V769.2h-2V765.8h-2V768.0h-2V767.2h-2V762.7h-2V763.9h-2V762.7h-2V761.4h-2V760.2h-2V759.5h-2V762.0h-2V756.4h-2V757.4h-2V770.2h-2V763.1h-2V763.0h-2V758.7h-2V761.1h-2V764.1h-2V760.8h-2V762.9h-2V764.4h-2V762.6h-2V761.0h-2V771.0h-2V775.1h-2V766.7h-2V766.5h-2V773.5h-2V773.4h-2V767.6h-2V770.5h-2V777.5h-2V774.7h-2V768.5h-2V772.9h-2V772.8h-2V771.2h-2V776.4h-2V765.1h-2V767.3h-2V767.1h-2V762.2h-2V763.6h-2V771.5h-2V765.5h-2V772.1h-2V764.3h-2V767.0h-2V763.4h-2V762.6h-2V759.7h-2V760.5h-2V768.0h-2V769.5h-2V768.5h-2V766.5h-2V764.5h-2V766.9h-2V766.5h-2V766.0h-2V767.5h-2V762.3h-2V765.8h-2V759.8h-2V755.9h-2V759.3h-2V766.2h-2V770.9h-2V770.6h-2V765.3h-2V766.2h-2V768.6h-2V765.2h-2V763.5h-2V768.5h-2V763.8h-2V767.5h-2V781.2h-2V768.9h-2V767.9h-2V764.3h-2V765.5h-2V764.5h-2V760.2h-2V758.9h-2V763.9h-2V764.4h-2V759.4h-2V761.1h-2V761.8h-2V759.8h-2V759.1h-2V759.6h-2V754.4h-2V756.7h-2V756.7h-2V760.1h-2V768.3h-2V769.3h-2V757.2h-2V758.9h-2V759.6h-2V765.2h-2V757.3h-2V767.2h-2V758.1h-2V752.4h-2V723.0h-2V753.2h-2V761.0h-2V760.5h-2V759.3h-2V758.1h-2V772.6h-2V762.5h-2V764.5h-2V761.2h-2V766.8h-2V760.0h-2V765.3h-2V763.1h-2V757.6h-2V758.1h-2V759.9h-2V768.5h-2V759.0h-2V762.6h-2V762.6h-2V772.6h-2V760.3h-2V763.2h-2V763.0h-2V762.9h-2V760.5h-2V755.3h-2V754.2h-2V760.0h-2V758.8h-2V759.6h-2V755.1h-2V761.1h-2V759.9h-2V761.6h-2V763.5h-2V759.4h-2V764.4h-2V756.8h-2V763.3h-2V763.4h-2V773.4h-2V771.8h-2V773.3h-2V778.9h-2V767.6h-2V761.6h-2V761.5h-2V763.7h-2V756.4h-2V759.3h-2V758.2h-2V766.4h-2V778.6h-2V764.3h-2V758.4h-2V762.3h-2V759.9h-2V770.4h-2V758.5h-2V758.7h-2V758.8h-2V764.8h-2V770.2h-2V754.0h-2V753.0h-2V737.9h-2V720.0h-2V741.7h-2V754.2h-2V753.6h-2V752.0h-2V750.0h-2V753.5h-2V749.4h-2V754.1h-2V753.4h-2V756.8h-2V748.8h-2V768.1h-2V750.3h-2V756.4h-2V753.9h-2V753.0h-2V753.8h-2V752.7h-2V753.9h-2V756.7h-2V749.8h-2V746.8h-2V751.8h-2V714.5h-2V741.3h-2V756.6h-2V759.1h-2V757.3h-2V755.8h-2V759.2h-2V756.8h-2V757.8h-2V755.8h-2V759.9h-2V758.9h-2V752.9h-2V756.0h-2V754.2h-2V750.3h-2V753.4h-2V753.1h-2V762.2h-2V761.9h-2V760.5h-2V755.1h-2V758.5h-2V760.0h-2V759.5h-2V763.4h-2V755.8h-2V753.0h-2V759.8h-2V737.3h-2V761.6h-2V757.0h-2V754.1h-2V766.6h-2V761.5h-2V765.9h-2V762.8h-2V756.0h-2V766.9h-2V761.5h-2V759.1h-2V762.2h-2V758.2h-2V761.2h-2V766.3h-2V765.3h-2V760.0h-2V757.8h-2V762.0h-2V784.6h-2V757.8h-2V752.1h-2V759.2h-2V762.1h-2V760.2h-2V758.8h-2V756.7h-2V752.4h-2V756.9h-2V756.3h-2V749.9h-2V746.2h-2V723.7h-2V708.5h-2V676.2h-2V681.8h-2V704.7h-2V710.7h-2V727.5h-2V747.0h-2V723.6h-2V730.0h-2V728.7h-2V702.1h-2V691.4h-2V721.5h-2V730.7h-2V728.7h-2V733.7h-2V729.5h-2V725.8h-2V736.6h-2V719.6h-2V722.1h-2V714.6h-2V697.9h-2V667.2h-2V709.1h-2V713.9h-2V715.2h-2V725.8h-2V723.4h-2V726.7h-2V721.7h-2V692.3h-2V737.3h-2V722.7h-2V724.6h-2V731.9h-2V708.9h-2V731.2h-2V732.6h-2V743.0h-2V733.5h-2V732.5h-2V736.0h-2V716.5h-2V725.8h-2V730.1h-2V747.0h-2V734.1h-2V722.3h-2V717.6h-2V723.8h-2V722.0h-2V727.9h-2V727.9h-2V739.3h-2V736.3h-2V737.0h-2V731.9h-2V735.6h-2V735.7h-2V740.4h-2V739.5h-2V737.9h-2V736.6h-2V727.2h-2V734.5h-2V732.8h-2V739.5h-2V715.2h-2V732.0h-2V741.2h-2V738.5h-2V734.1h-2V731.3h-2V735.5h-2V732.6h-2V730.0h-2V698.4h-2V730.1h-2V735.1h-2V730.5h-2V727.7h-2V734.0h-2V741.5h-2V740.7h-2V743.3h-2V755.4h-2V747.9h-2V761.8h-2V737.2h-2V748.4h-2V748.3h-2V739.5h-2V739.9h-2V737.5h-2V737.2h-2V730.6h-2V740.4h-2V738.8h-2V733.0h-2V739.7h-2V734.3h-2V736.3h-2V734.3h-2V742.0h-2V751.7h-2V748.4h-2V740.6h-2V754.9h-2V743.2h-2V740.9h-2V747.7h-2V741.9h-2V741.2h-2V747.0h-2V745.9h-2V741.9h-2V744.5h-2V740.8h-2V744.8h-2V746.3h-2V739.1h-2V740.4h-2V743.1h-2V738.9h-2V740.8h-2V745.6h-2V745.1h-2V737.7h-2V741.6h-2V737.5h-2V739.0h-2V731.3h-2V733.9h-2V736.0h-2V732.5h-2V734.8h-2V736.2h-2V733.5h-2V738.6h-2V735.5h-2V729.6h-2V734.6h-2V732.5h-2V737.0h-2V739.6h-2V740.3h-2V735.8h-2V739.1h-2V733.5h-2V732.2h-2V738.4h-2V743.0h-2V736.1h-2V742.7h-2V733.2h-2V732.9h-2V739.0h-2V726.7h-2V731.5h-2V729.9h-2V739.6h-2V739.4h-2V739.4h-2V733.7h-2V739.9h-2V735.9h-2V726.1h-2V710.9h-2V730.6h-2V738.8h-2V733.3h-2V727.7h-2V732.5h-2V729.3h-2V753.5h-2V738.0h-2V741.3h-2V739.0h-2V735.9h-2V741.1h-2V736.7h-2V735.4h-2V743.4h-2V736.4h-2V746.0h-2V733.1h-2V723.4h-2V724.5h-2V743.4h-2V738.0h-2V738.8h-2V744.5h-2V744.6h-2V748.4h-2V748.4h-2V754.1h-2V754.5h-2V754.9h-2V750.5h-2V758.2h-2V755.4h-2V749.2h-2V753.6h-2V762.9h-2V751.3h-2V750.3h-2V751.8h-2V759.3h-2V753.2h-2V751.8h-2V746.3h-2V754.1h-2V751.7h-2V756.3h-2V762.2h-2V747.1h-2V752.1h-2V752.0h-2V757.1h-2V750.4h-2V753.5h-2V755.6h-2V754.7h-2V747.4h-2V751.1h-2V755.7h-2V750.4h-2V750.9h-2V751.1h-2V750.8h-2V761.1h-2V758.2h-2V755.9h-2V753.8h-2V754.7h-2V746.7h-2V755.0h-2V756.0h-2V757.3h-2V766.6h-2V751.0h-2V747.8h-2V754.3h-2V755.8h-2V761.5h-2V758.2h-2V757.3h-2V753.8h-2V752.8h-2V755.3h-2V749.3h-2V756.6h-2V752.0h-2V745.1h-2V744.7h-2V751.9h-2V748.9h-2V749.4h-2Z"/>
<polyline fill="none" stroke="#E49A15" stroke-width="3.2" stroke-linejoin="round" points="586.1,658.8 586.6,640.8 587.1,623.3 587.6,615.5 588.1,623.5 588.6,641.1 589.1,659.3"/>
<path fill="#127A9E" stroke="#127A9E" stroke-width="1.10" stroke-linejoin="round" d="M116.0,1006.4h2V1015.6h2V1019.0h2V1005.7h2V1019.7h2V1022.0h2V1015.4h2V1024.1h2V1011.9h2V1011.0h2V1013.1h2V1010.3h2V1012.8h2V1009.6h2V1014.5h2V1016.0h2V1009.5h2V1021.0h2V1015.3h2V1016.3h2V1014.1h2V1008.3h2V1015.1h2V1005.1h2V1008.7h2V1015.3h2V1016.4h2V1014.0h2V1014.2h2V1016.9h2V1012.5h2V1020.1h2V1005.4h2V1014.7h2V1016.9h2V1018.7h2V1006.6h2V1021.5h2V1010.4h2V1020.1h2V1015.9h2V1016.5h2V1024.7h2V1019.1h2V1021.1h2V1019.7h2V1021.8h2V1022.1h2V1018.0h2V1021.3h2V1021.6h2V1013.1h2V1013.5h2V1014.8h2V1019.3h2V1018.4h2V1016.6h2V1018.7h2V1010.6h2V1014.0h2V1014.2h2V1016.3h2V1020.3h2V1020.9h2V1001.0h2V995.3h2V1010.0h2V1005.6h2V1007.6h2V1012.2h2V998.2h2V1011.8h2V1010.9h2V1013.2h2V1014.9h2V1007.9h2V1009.4h2V1006.1h2V1001.3h2V1006.2h2V1009.7h2V1006.8h2V1012.5h2V1016.6h2V1013.0h2V1008.9h2V1003.9h2V989.7h2V1009.4h2V1015.4h2V1009.4h2V1010.1h2V1002.0h2V1006.9h2V994.5h2V1011.7h2V999.6h2V1006.2h2V1004.7h2V1008.7h2V1010.9h2V1010.9h2V1012.5h2V1000.5h2V1013.4h2V1004.6h2V1010.4h2V1012.0h2V1009.0h2V1003.3h2V1001.1h2V1014.5h2V1005.5h2V1012.0h2V1005.0h2V1016.8h2V1016.7h2V1013.4h2V1005.6h2V1010.3h2V1007.0h2V1005.6h2V1009.1h2V1009.4h2V1010.5h2V1013.4h2V993.0h2V1013.8h2V1007.7h2V1007.5h2V1013.9h2V987.5h2V997.6h2V1007.4h2V1010.7h2V998.3h2V1013.9h2V1006.7h2V1009.8h2V1010.2h2V1005.4h2V1008.0h2V989.0h2V995.1h2V1008.5h2V1001.9h2V1009.3h2V1013.3h2V1013.0h2V1015.6h2V1013.4h2V1023.4h2V1016.4h2V1014.5h2V1017.2h2V1010.7h2V1015.1h2V1018.0h2V1006.4h2V1017.9h2V1013.0h2V1008.5h2V1004.2h2V1012.6h2V991.2h2V1011.6h2V1008.0h2V1008.2h2V1006.4h2V1008.6h2V995.8h2V1014.9h2V1009.8h2V1010.4h2V1011.3h2V1007.9h2V1015.6h2V1013.9h2V1013.2h2V1011.0h2V1002.8h2V1010.2h2V1001.7h2V1011.2h2V1008.0h2V1013.4h2V1004.4h2V1006.3h2V1009.6h2V1014.0h2V1011.5h2V1010.6h2V1007.5h2V1014.1h2V1017.9h2V1017.2h2V1011.5h2V1017.2h2V1018.3h2V1017.0h2V995.1h2V1017.6h2V1018.5h2V1013.8h2V1016.1h2V1014.0h2V1022.2h2V1013.2h2V1015.9h2V1020.7h2V1006.9h2V1014.1h2V1008.5h2V1008.6h2V1010.2h2V993.2h2V1019.8h2V1014.6h2V1001.6h2V1009.4h2V1009.3h2V1014.0h2V1019.6h2V1018.8h2V1010.0h2V1015.4h2V1010.2h2V1003.9h2V1013.5h2V1013.3h2V1010.2h2V1024.1h2V1023.8h2V1019.4h2V1023.2h2V1020.9h2V1011.3h2V1016.6h2V1016.2h2V1007.0h2V1015.2h2V1022.0h2V1021.2h2V1022.5h2V1017.2h2V1019.2h2V1011.2h2V1008.2h2V977.8h2V969.4h2V967.0h2V977.7h2V993.5h2V995.6h2V993.8h2V1007.1h2V1013.5h2V1014.5h2V1014.1h2V1017.5h2V1018.1h2V1015.2h2V1016.8h2V1017.1h2V1020.7h2V1019.2h2V1024.1h2V1018.3h2V1010.9h2V1014.8h2V1005.8h2V1018.8h2V1015.8h2V1017.8h2V1011.4h2V1011.5h2V1008.8h2V997.9h2V990.2h2V988.4h2V981.3h2V968.7h2V962.0h2V972.9h2V984.6h2V998.9h2V997.3h2V1004.5h2V1009.8h2V1006.3h2V1020.0h2V1015.6h2V1015.2h2V1013.2h2V998.8h2V1000.2h2V983.6h2V939.7h2V879.9h2V819.2h2V803.5h2V804.7h2V861.5h2V926.9h2V972.8h2V1003.1h2V1020.3h2V1022.1h2V1025.3h2V1028.5h2V1021.9h2V1034.7h2V1033.5h2V1033.9h2V1032.5h2V1036.7h2V1035.0h2V1036.0h2V1031.1h2V1035.5h2V1038.0h2V1038.2h2V1036.5h2V1041.8h2V1041.8h2V1039.9h2V1039.6h2V1040.9h2V1037.1h2V1036.0h2V1041.9h2V1041.0h2V1034.9h2V1043.5h2V1034.9h2V1035.0h2V1040.2h2V1037.6h2V1043.3h2V1042.1h2V1045.0h2V1045.5h2V1033.2h2V1039.6h2V1038.2h2V1039.5h2V1038.8h2V1041.5h2V1043.7h2V1038.3h2V1041.8h2V1046.2h2V1042.6h2V1045.0h2V1038.2h2V1048.9h2V1045.1h2V1040.1h2V1040.7h2V1035.8h2V1039.5h2V1041.1h2V1041.0h2V1043.2h2V1043.9h2V1034.9h2V1048.8h2V1047.7h2V1048.8h2V1049.1h2V1045.6h2V1046.2h2V1046.4h2V1044.6h2V1051.5h2V1046.8h2V1048.1h2V1047.5h2V1045.9h2V1043.8h2V1046.2h2V1042.4h2V1046.1h2V1047.5h2V1046.3h2V1049.4h2V1050.9h2V1050.3h2V1053.3h2V1051.7h2V1049.0h2V1054.3h2V1049.6h2V1051.8h2V1052.3h2V1051.7h2V1052.9h2V1049.9h2V1051.3h2V1051.6h2V1051.2h2V1053.0h2V1050.4h2V1054.0h2V1054.7h2V1056.1h2V1049.5h2V1055.1h2V1047.1h2V1055.7h2V1057.1h2V1053.6h2V1053.2h2V1049.2h2V1051.5h2V1054.0h2V1054.0h2V1049.5h2V1051.4h2V1053.4h2V1050.3h2V1050.5h2V1047.1h2V1046.7h2V1040.5h2V1035.5h2V1019.5h2V1003.7h2V980.3h2V971.6h2V974.7h2V990.9h2V1011.0h2V1030.6h2V1041.8h2V1048.1h2V1052.5h2V1049.5h2V1055.5h2V1057.3h2V1054.9h2V1061.1h2V1053.6h2V1060.9h2V1061.7h2V1060.9h2V1056.3h2V1059.6h2V1061.6h2V1050.4h2V1063.4h2V1060.7h2V1060.2h2V1061.8h2V1054.8h2V1056.7h2V1055.2h2V1055.7h2V1058.9h2V1057.0h2V1058.1h2V1052.0h2V1057.0h2V1059.0h2V1057.6h2V1056.3h2V1057.9h2V1057.8h2V1057.6h2V1055.6h2V1058.1h2V1056.0h2V1057.0h2V1061.1h2V1061.1h2V1063.7h2V1063.1h2V1061.1h2V1062.8h2V1056.5h2V1058.9h2V1061.4h2V1059.6h2V1060.3h2V1061.0h2V1056.9h2V1062.8h2V1062.5h2V1062.3h2V1054.5h2V1062.3h2V1058.1h2V1057.3h2V1060.4h2V1052.9h2V1053.7h2V1054.2h2V1055.1h2V1059.9h2V1057.7h2V1056.2h2V1061.1h2V1051.9h2V1057.6h2V1057.2h2V1061.4h2V1061.2h2V1061.8h2V1060.2h2V1062.1h2V1064.5h2V1060.9h2V1058.8h2V1056.5h2V1063.0h2V1060.2h2V1061.7h2V1060.7h2V1060.5h2V1055.4h2V1059.6h2V1055.5h2V1056.7h2V1057.8h2V1054.3h2V1046.2h2V1041.6h2V1027.8h2V1005.3h2V995.0h2V987.2h2V986.3h2V998.7h2V1016.5h2V1035.2h2V1044.6h2V1049.0h2V1056.4h2V1058.6h2V1057.1h2V1060.0h2V1059.1h2V1061.9h2V1062.8h2V1060.0h2V1057.7h2V1059.4h2V1059.3h2V1061.2h2V1052.6h2V1057.0h2V1060.3h2V1051.9h2V1063.6h2V1060.4h2V1063.6h2V1061.7h2V1062.6h2V1055.0h2V1056.0h2V1064.4h2V1064.0h2V1062.6h2V1058.1h2V1058.0h2V1060.1h2V1061.0h2V1061.5h2V1061.8h2V1061.8h2V1054.6h2V1062.2h2V1058.0h2V1059.6h2V1060.5h2V1063.3h2V1064.8h2V1061.7h2V1051.2h2V1060.8h2V1063.6h2V1060.7h2V1062.0h2V1050.0h2V1064.5h2V1065.2h2V1061.8h2V1060.3h2V1062.6h2V1064.0h2V1058.6h2V1060.0h2V1058.1h2V1056.3h2V1055.6h2V1059.3h2V1051.8h2V1057.0h2V1050.9h2V1048.7h2V1043.2h2V1037.5h2V1025.3h2V1014.6h2V1004.6h2V997.0h2V998.3h2V1005.7h2V1012.6h2V1026.1h2V1033.8h2V1047.7h2V1049.5h2V1057.2h2V1059.9h2V1060.0h2V1062.2h2V1059.6h2V1060.5h2V1054.3h2V1057.9h2V1061.0h2V1059.1h2V1058.4h2V1059.6h2V1061.1h2V1064.4h2V1058.7h2V1063.5h2V1066.3h2V1065.5h2V1052.5h2V1060.0h2V1060.0h2V1060.0h2V1053.8h2V1062.7h2V1062.8h2V1061.0h2V1057.8h2V1056.8h2V1057.0h2V1053.2h2V1059.9h2V1059.5h2V1060.8h2V1059.7h2V1059.3h2V1053.9h2V1058.8h2V1058.3h2V1054.0h2V1055.1h2V1058.1h2V1055.1h2V1052.8h2V1053.1h2V1047.7h2V1047.9h2V1043.0h2V1040.0h2V1037.3h2V1034.5h2V1032.0h2V1033.1h2V1034.7h2V1038.2h2V1035.5h2V1039.2h2V1044.4h2V1049.1h2V1052.0h2V1052.7h2V1055.3h2V1053.2h2V1040.1h2V1034.0h2V1043.7h2V1053.7h2V1059.9h2V1056.6h2V1058.5h2V1061.3h2V1056.3h2V1063.9h2V1064.0h2V1066.1h2V1066.1h2V1062.4h2V1065.1h2V1066.1h2V1060.2h2V1063.0h2V1068.1h2V1065.0h2V1062.8h2V1061.3h2V1080.2h-2V1079.0h-2V1082.0h-2V1080.2h-2V1081.9h-2V1084.5h-2V1082.5h-2V1079.9h-2V1078.9h-2V1078.8h-2V1079.1h-2V1077.3h-2V1079.5h-2V1075.9h-2V1083.2h-2V1076.9h-2V1076.3h-2V1073.7h-2V1081.2h-2V1078.5h-2V1047.7h-2V1059.8h-2V1066.8h-2V1068.7h-2V1068.5h-2V1066.5h-2V1061.5h-2V1059.0h-2V1054.7h-2V1051.0h-2V1048.3h-2V1055.6h-2V1048.4h-2V1052.3h-2V1051.4h-2V1054.7h-2V1052.6h-2V1057.9h-2V1065.3h-2V1064.4h-2V1066.4h-2V1069.9h-2V1073.1h-2V1070.1h-2V1072.8h-2V1076.1h-2V1071.9h-2V1072.8h-2V1073.3h-2V1074.1h-2V1074.2h-2V1074.4h-2V1075.8h-2V1073.5h-2V1075.2h-2V1075.7h-2V1075.8h-2V1078.9h-2V1076.9h-2V1075.3h-2V1075.8h-2V1077.1h-2V1075.3h-2V1076.4h-2V1086.0h-2V1078.9h-2V1079.6h-2V1078.1h-2V1078.1h-2V1085.6h-2V1075.3h-2V1075.2h-2V1075.0h-2V1077.6h-2V1078.2h-2V1074.9h-2V1081.0h-2V1078.7h-2V1080.4h-2V1072.3h-2V1074.4h-2V1074.0h-2V1073.5h-2V1070.0h-2V1068.5h-2V1065.3h-2V1057.4h-2V1044.3h-2V1034.0h-2V1021.3h-2V1007.9h-2V1011.5h-2V1019.5h-2V1035.9h-2V1042.1h-2V1052.7h-2V1062.4h-2V1064.4h-2V1067.9h-2V1069.2h-2V1069.4h-2V1071.4h-2V1081.8h-2V1073.7h-2V1076.9h-2V1072.0h-2V1073.6h-2V1073.6h-2V1077.0h-2V1075.6h-2V1078.3h-2V1078.3h-2V1076.0h-2V1080.5h-2V1080.3h-2V1078.5h-2V1077.8h-2V1076.2h-2V1076.3h-2V1078.5h-2V1078.2h-2V1077.0h-2V1079.2h-2V1075.9h-2V1076.0h-2V1074.7h-2V1073.5h-2V1075.4h-2V1076.4h-2V1076.8h-2V1074.0h-2V1074.7h-2V1076.0h-2V1079.4h-2V1075.4h-2V1075.3h-2V1075.7h-2V1076.4h-2V1075.7h-2V1073.4h-2V1076.1h-2V1075.2h-2V1076.5h-2V1081.9h-2V1079.5h-2V1074.8h-2V1078.8h-2V1076.2h-2V1078.0h-2V1073.2h-2V1074.0h-2V1073.6h-2V1075.7h-2V1075.1h-2V1077.2h-2V1077.0h-2V1073.6h-2V1070.9h-2V1072.0h-2V1077.2h-2V1068.5h-2V1062.7h-2V1053.0h-2V1041.1h-2V1025.4h-2V1006.6h-2V999.8h-2V1016.9h-2V1033.0h-2V1046.2h-2V1063.6h-2V1066.6h-2V1069.7h-2V1073.1h-2V1070.8h-2V1070.7h-2V1076.0h-2V1073.3h-2V1073.5h-2V1076.1h-2V1076.9h-2V1090.4h-2V1083.2h-2V1077.8h-2V1080.5h-2V1079.5h-2V1077.8h-2V1082.0h-2V1075.8h-2V1075.3h-2V1076.0h-2V1076.2h-2V1077.7h-2V1073.1h-2V1074.8h-2V1077.8h-2V1075.3h-2V1075.2h-2V1073.2h-2V1071.1h-2V1074.8h-2V1074.4h-2V1078.5h-2V1076.8h-2V1079.5h-2V1074.9h-2V1074.2h-2V1079.5h-2V1077.1h-2V1077.4h-2V1080.3h-2V1078.7h-2V1078.0h-2V1078.3h-2V1077.5h-2V1073.9h-2V1074.4h-2V1075.5h-2V1078.1h-2V1077.2h-2V1082.1h-2V1077.4h-2V1077.5h-2V1077.3h-2V1078.6h-2V1071.8h-2V1072.4h-2V1068.8h-2V1069.4h-2V1072.4h-2V1074.1h-2V1072.7h-2V1071.9h-2V1072.8h-2V1070.8h-2V1072.9h-2V1078.2h-2V1071.6h-2V1072.1h-2V1071.5h-2V1072.9h-2V1074.4h-2V1075.6h-2V1075.0h-2V1075.9h-2V1079.7h-2V1074.5h-2V1084.6h-2V1074.6h-2V1076.0h-2V1078.2h-2V1076.1h-2V1072.2h-2V1073.7h-2V1074.8h-2V1073.4h-2V1075.6h-2V1074.5h-2V1071.1h-2V1072.9h-2V1069.4h-2V1070.5h-2V1060.1h-2V1051.1h-2V1036.6h-2V1016.4h-2V993.6h-2V994.8h-2V1005.6h-2V1028.2h-2V1044.5h-2V1057.4h-2V1063.6h-2V1068.5h-2V1068.0h-2V1073.8h-2V1070.0h-2V1069.5h-2V1070.0h-2V1073.6h-2V1066.6h-2V1070.5h-2V1070.5h-2V1072.4h-2V1067.1h-2V1073.3h-2V1077.5h-2V1069.8h-2V1068.9h-2V1076.2h-2V1068.2h-2V1071.9h-2V1071.2h-2V1075.0h-2V1080.4h-2V1077.3h-2V1075.7h-2V1080.4h-2V1070.3h-2V1070.2h-2V1072.7h-2V1072.3h-2V1069.5h-2V1068.8h-2V1071.9h-2V1072.3h-2V1072.7h-2V1072.7h-2V1072.4h-2V1074.4h-2V1074.3h-2V1068.9h-2V1065.9h-2V1071.1h-2V1064.9h-2V1067.8h-2V1066.3h-2V1065.1h-2V1075.5h-2V1063.4h-2V1067.3h-2V1069.2h-2V1065.5h-2V1065.9h-2V1067.1h-2V1067.3h-2V1070.7h-2V1065.4h-2V1070.0h-2V1067.5h-2V1062.0h-2V1064.6h-2V1063.2h-2V1059.8h-2V1064.5h-2V1061.1h-2V1055.3h-2V1058.4h-2V1060.8h-2V1064.5h-2V1060.1h-2V1074.6h-2V1065.3h-2V1063.7h-2V1063.0h-2V1065.4h-2V1062.8h-2V1061.4h-2V1063.8h-2V1060.0h-2V1060.8h-2V1063.2h-2V1067.9h-2V1066.8h-2V1063.7h-2V1062.5h-2V1060.8h-2V1063.6h-2V1060.3h-2V1058.6h-2V1061.5h-2V1064.8h-2V1057.4h-2V1058.3h-2V1058.9h-2V1061.2h-2V1071.3h-2V1060.0h-2V1056.0h-2V1061.2h-2V1063.6h-2V1063.0h-2V1069.6h-2V1061.5h-2V1056.8h-2V1064.3h-2V1063.1h-2V1062.4h-2V1051.9h-2V1057.0h-2V1062.2h-2V1054.2h-2V1053.0h-2V1055.9h-2V1055.0h-2V1052.7h-2V1048.1h-2V1051.9h-2V1048.1h-2V1039.8h-2V1036.1h-2V1030.8h-2V1013.5h-2V983.0h-2V930.7h-2V865.1h-2V826.9h-2V882.4h-2V944.0h-2V985.3h-2V1016.1h-2V1025.0h-2V1034.2h-2V1032.0h-2V1035.0h-2V1038.1h-2V1036.6h-2V1047.4h-2V1028.5h-2V1029.9h-2V1040.1h-2V1017.0h-2V1022.4h-2V999.1h-2V985.5h-2V1002.1h-2V1003.9h-2V1008.4h-2V1020.1h-2V1020.1h-2V1029.5h-2V1033.0h-2V1036.5h-2V1039.2h-2V1039.6h-2V1036.2h-2V1039.5h-2V1045.0h-2V1049.4h-2V1058.7h-2V1042.8h-2V1047.3h-2V1045.7h-2V1065.1h-2V1047.3h-2V1046.0h-2V1047.9h-2V1053.2h-2V1044.9h-2V1044.3h-2V1043.2h-2V1045.3h-2V1043.6h-2V1029.6h-2V1018.5h-2V1007.3h-2V985.6h-2V1011.7h-2V1033.2h-2V1035.4h-2V1040.4h-2V1049.6h-2V1043.9h-2V1050.3h-2V1053.7h-2V1044.3h-2V1053.7h-2V1037.0h-2V1044.6h-2V1046.7h-2V1043.0h-2V1046.3h-2V1046.5h-2V1052.4h-2V1045.6h-2V1044.4h-2V1046.7h-2V1054.0h-2V1047.6h-2V1041.2h-2V1041.0h-2V1044.7h-2V1040.3h-2V1044.9h-2V1051.4h-2V1046.0h-2V1049.4h-2V1036.5h-2V1049.3h-2V1045.6h-2V1046.0h-2V1038.7h-2V1044.3h-2V1040.2h-2V1040.9h-2V1041.0h-2V1046.9h-2V1050.5h-2V1045.6h-2V1045.4h-2V1052.1h-2V1045.2h-2V1044.3h-2V1040.4h-2V1055.7h-2V1044.4h-2V1050.7h-2V1038.0h-2V1046.8h-2V1046.5h-2V1040.7h-2V1046.3h-2V1042.2h-2V1050.5h-2V1064.1h-2V1048.4h-2V1038.1h-2V1038.2h-2V1040.9h-2V1042.7h-2V1049.7h-2V1035.1h-2V1050.3h-2V1042.8h-2V1034.6h-2V1036.1h-2V1044.3h-2V1038.0h-2V1038.2h-2V1038.9h-2V1034.8h-2V1043.6h-2V1034.9h-2V1043.2h-2V1038.5h-2V1046.3h-2V1043.9h-2V1043.0h-2V1044.1h-2V1036.4h-2V1042.5h-2V1031.8h-2V1036.2h-2V1034.9h-2V1046.9h-2V1048.9h-2V1047.1h-2V1045.2h-2V1045.6h-2V1040.7h-2V1042.3h-2V1039.1h-2V1040.8h-2V1052.3h-2V1052.4h-2V1050.4h-2V1051.6h-2V1049.4h-2V1040.3h-2V1039.3h-2V1038.1h-2V1038.2h-2V1040.4h-2V1043.1h-2V1031.5h-2V1035.7h-2V1033.9h-2V1036.3h-2V1050.8h-2V1046.6h-2V1035.8h-2V1033.8h-2V1031.8h-2V1044.2h-2V1033.7h-2V1034.3h-2V1032.1h-2V1044.3h-2V1035.3h-2V1038.0h-2V1035.7h-2V1039.2h-2V1039.6h-2V1040.2h-2V1038.1h-2V1041.8h-2V1033.1h-2V1037.9h-2V1032.4h-2V1035.1h-2V1039.9h-2V1036.9h-2V1043.3h-2V1040.5h-2V1049.1h-2V1042.8h-2V1032.8h-2V1049.0h-2V1040.0h-2V1039.2h-2V1039.4h-2V1038.4h-2V1034.2h-2V1035.2h-2V1040.8h-2V1041.9h-2V1041.7h-2V1032.3h-2V1033.4h-2V1027.8h-2V1031.7h-2V1037.5h-2V1041.7h-2V1032.4h-2V1033.6h-2V1034.2h-2V1033.3h-2V1048.4h-2V1037.6h-2V1035.0h-2V1034.7h-2V1035.4h-2V1047.7h-2V1042.1h-2V1035.4h-2V1037.5h-2V1035.5h-2V1034.3h-2V1047.2h-2V1031.3h-2V1035.0h-2V1031.6h-2V1042.4h-2V1038.2h-2V1040.2h-2V1043.5h-2V1042.7h-2V1038.7h-2V1042.7h-2V1040.1h-2V1038.0h-2V1036.0h-2V1062.3h-2V1044.4h-2V1040.2h-2V1045.6h-2V1041.0h-2V1052.8h-2V1049.8h-2V1047.4h-2V1040.3h-2V1043.1h-2V1042.6h-2V1043.8h-2V1046.5h-2V1038.3h-2V1042.6h-2V1044.3h-2V1051.8h-2V1069.7h-2V1057.9h-2V1041.6h-2V1056.9h-2V1046.3h-2V1041.7h-2V1043.7h-2V1048.1h-2V1049.4h-2V1046.6h-2V1048.7h-2V1043.5h-2V1035.6h-2V1041.4h-2V1053.0h-2V1038.4h-2V1043.2h-2V1043.6h-2V1061.5h-2V1039.1h-2V1045.2h-2V1038.9h-2V1050.3h-2V1041.6h-2V1057.0h-2V1041.3h-2V1040.9h-2V1044.2h-2V1050.4h-2V1042.5h-2V1043.2h-2V1039.5h-2V1039.7h-2V1042.7h-2V1046.4h-2V1039.7h-2V1045.7h-2V1044.7h-2V1047.9h-2V1050.1h-2V1053.1h-2V1051.5h-2V1063.3h-2V1046.9h-2V1050.0h-2V1044.6h-2V1045.7h-2V1043.3h-2Z"/>
<polyline fill="none" stroke="#127A9E" stroke-width="3.2" stroke-linejoin="round" points="712.3,931.4 712.8,916.8 713.3,901.3 713.8,885.0 714.3,868.5 714.8,852.3 715.3,837.2 715.8,824.0 716.3,813.7 716.8,807.2 717.3,805.0 717.8,807.5 718.3,814.3 718.8,824.9 719.3,838.3 719.8,853.7 720.3,870.2 720.8,887.0 721.3,903.6 721.8,919.5 722.3,934.4"/>
</g>
<g stroke="#000" stroke-width="4" fill="none">
<rect x="116" y="15.5" width="1393.5" height="1162.5"/>
<line x1="215.5" y1="1176" x2="215.5" y2="1165.0"/><line x1="315.0" y1="1176" x2="315.0" y2="1154.0"/><line x1="414.5" y1="1176" x2="414.5" y2="1165.0"/><line x1="514.0" y1="1176" x2="514.0" y2="1154.0"/><line x1="613.5" y1="1176" x2="613.5" y2="1165.0"/><line x1="713.0" y1="1176" x2="713.0" y2="1154.0"/><line x1="812.5" y1="1176" x2="812.5" y2="1165.0"/><line x1="912.0" y1="1176" x2="912.0" y2="1154.0"/><line x1="1011.5" y1="1176" x2="1011.5" y2="1165.0"/><line x1="1111.0" y1="1176" x2="1111.0" y2="1154.0"/><line x1="1210.5" y1="1176" x2="1210.5" y2="1165.0"/><line x1="1310.0" y1="1176" x2="1310.0" y2="1154.0"/><line x1="1409.5" y1="1176" x2="1409.5" y2="1165.0"/>
</g>
<g font-family="Liberation Serif, serif" font-size="58" text-anchor="middle" fill="#000"><text x="116.5" y="1244.7">10</text><text x="315.5" y="1244.7">20</text><text x="514.5" y="1244.7">30</text><text x="713.5" y="1244.7">40</text><text x="912.5" y="1244.7">50</text><text x="1111.5" y="1244.7">60</text><text x="1310.5" y="1244.7">70</text><text x="1509.5" y="1244.7">80</text></g>
<g stroke-linecap="round">
<line x1="1004.5" y1="77.6" x2="1136.5" y2="77.6" stroke="#AD160D" stroke-width="5.3"/>
<line x1="1004.5" y1="152.2" x2="1136.5" y2="152.2" stroke="#E49A15" stroke-width="4.8"/>
<line x1="1004.5" y1="227.2" x2="1136.5" y2="227.2" stroke="#127A9E" stroke-width="4.3"/>
</g>
<g font-family="Liberation Serif, serif" fill="#000">
<text transform="translate(747.16,1320.50) scale(0.6347,0.5857)" font-size="100">2θ(°)</text>
<text transform="translate(69.42,733.33) rotate(-90) scale(0.6110,0.6611)" font-size="100">Intensitu(a.u.)</text>
<text transform="translate(1163.19,98.42) scale(0.6540,0.5897)" font-size="100">TC4</text>
<text transform="translate(1166.18,173.17) scale(0.6744,0.6147)" font-size="100">BG</text>
<text transform="translate(1168.20,248.17) scale(0.6476,0.6162)" font-size="100">TC4/BG</text>
<text transform="translate(934.01,336.00) scale(0.5957,0.4950)" font-size="100">♠</text>
<text transform="translate(975.65,335.01) scale(0.6624,0.5866)" font-size="100">α-Ti</text>
<text transform="translate(1114.34,335.45) scale(0.6120,0.5526)" font-size="100">♥</text>
<text transform="translate(1160.19,335.01) scale(0.6514,0.5866)" font-size="100">α'-Ti</text>
<text transform="translate(1309.28,334.89) scale(0.5733,0.5066)" font-size="100">♦</text>
<text transform="translate(1350.50,336.85) scale(0.6500,0.6264)" font-size="100">β-Ti</text>
<text transform="translate(307.36,581.16) scale(0.6789,0.6221)" font-size="100">BG</text>
<text transform="translate(315.65,823.79) scale(0.6165,0.6074)" font-size="100">BG</text>
<text transform="translate(594.58,401.86) scale(0.5040,0.4368)" font-size="100">♥</text>
<text transform="translate(597.43,438.00) scale(0.4915,0.4333)" font-size="100">♠</text>
<text transform="translate(653.56,403.07) scale(0.5280,0.4316)" font-size="100">♥</text>
<text transform="translate(676.51,464.00) scale(0.3978,0.4016)" font-size="100">♦</text>
<text transform="translate(701.60,245.50) scale(0.4681,0.3917)" font-size="100">♠</text>
<text transform="translate(957.06,471.50) scale(0.4787,0.4250)" font-size="100">♠</text>
<text transform="translate(1161.56,480.00) scale(0.4787,0.3883)" font-size="100">♠</text>
<text transform="translate(1303.56,473.00) scale(0.4787,0.4167)" font-size="100">♠</text>
<text transform="translate(1423.56,494.00) scale(0.4787,0.4167)" font-size="100">♠</text>
<text transform="translate(1451.06,502.00) scale(0.4787,0.4250)" font-size="100">♠</text>
</g>
<line x1="304.6" y1="548.1" x2="283.1" y2="526.9" stroke="#000" stroke-width="1.7"/><polygon points="261.7,505.3 288.9,522.2 277.3,531.6" fill="#000"/><line x1="309.1" y1="789.0" x2="291.2" y2="769.3" stroke="#000" stroke-width="1.7"/><polygon points="268.7,747.5 297.5,764.9 285.0,773.8" fill="#000"/><line x1="441.3" y1="797.4" x2="532.2" y2="750.2" stroke="#000" stroke-width="2.8"/><polygon points="546.7,743.3 528.2,743.0 536.1,757.5" fill="#000"/>
</svg>
</body></html>
